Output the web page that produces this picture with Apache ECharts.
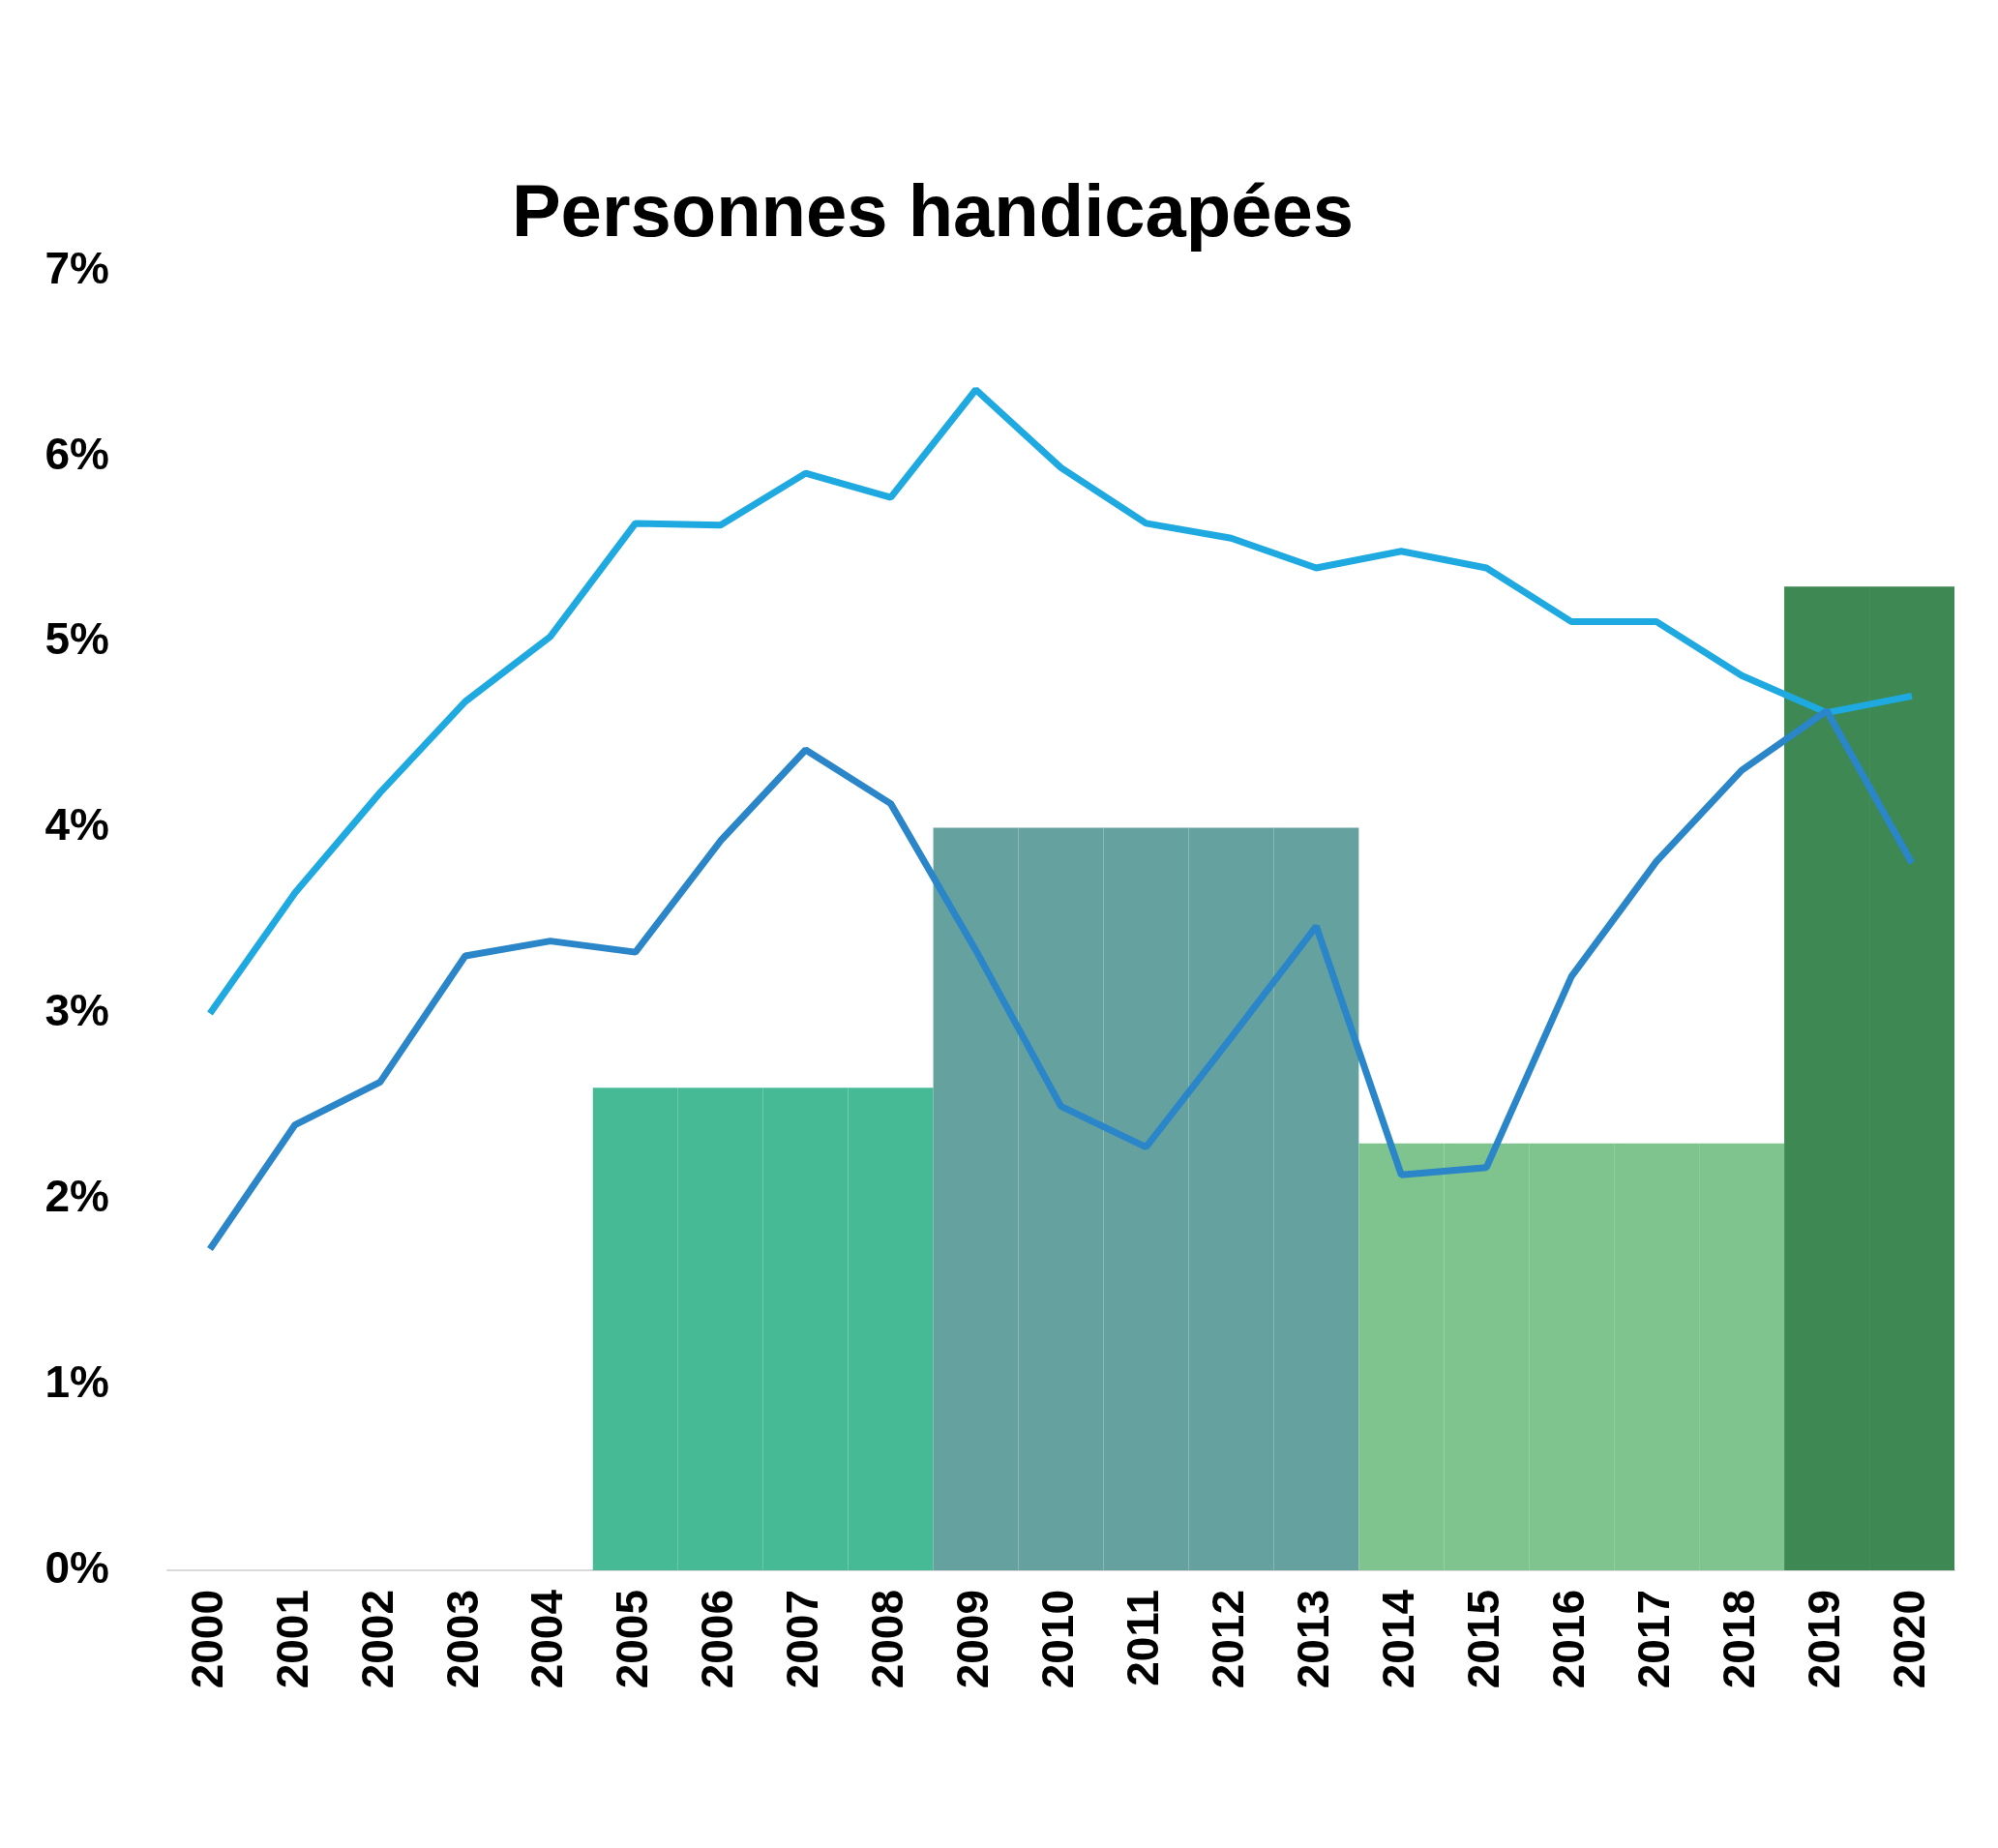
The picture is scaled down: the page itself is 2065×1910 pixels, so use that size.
<!DOCTYPE html>
<html>
<head>
<meta charset="utf-8">
<script src="https://cdn.jsdelivr.net/npm/echarts@6/dist/echarts.min.js"></script>
<style>
  html, body { margin: 0; padding: 0; background: #fff; }
  #chart { width: 2065px; height: 1910px; }
</style>
</head>
<body>
<div id="chart"></div>
<script>
// years on the x axis
const years = ['2000', '2001', '2002', '2003', '2004', '2005', '2006', '2007', '2008', '2009', '2010',
  '2011', '2012', '2013', '2014', '2015', '2016', '2017', '2018', '2019', '2020'];

// stepped bars (one value per year, '-' = empty)
const barValues = ['-', '-', '-', '-', '-', 2.6, 2.6, 2.6, 2.6, 4.0, 4.0, 4.0, 4.0, 4.0,
  2.3, 2.3, 2.3, 2.3, 2.3, 5.3, 5.3];
const barColors = ['#46b995', '#46b995', '#46b995', '#46b995', '#46b995', '#46b995', '#46b995', '#46b995', '#46b995',
  '#65a29f', '#65a29f', '#65a29f', '#65a29f', '#65a29f',
  '#7fc48f', '#7fc48f', '#7fc48f', '#7fc48f', '#7fc48f', '#3d8853', '#3d8853'];

// lines
const lightLine = [3.0, 3.65, 4.19, 4.68, 5.03, 5.64, 5.63, 5.91, 5.78, 6.36, 5.94,
  5.64, 5.56, 5.40, 5.49, 5.40, 5.11, 5.11, 4.82, 4.62, 4.71];
const darkLine = [1.73, 2.40, 2.63, 3.31, 3.39, 3.33, 3.93, 4.42, 4.13, 3.34, 2.50,
  2.28, 2.87, 3.47, 2.13, 2.17, 3.20, 3.82, 4.31, 4.63, 3.81];

const chart = echarts.init(document.getElementById('chart'));
const font = '"Liberation Sans", "Open Sans", sans-serif';

chart.setOption({
  animation: false,
  title: {
    text: 'Personnes handicapées',
    left: 959, top: 180, textAlign: 'center',
    textStyle: { fontFamily: font, fontWeight: 'bold', fontSize: 76, color: '#000' }
  },
  grid: { left: 173, right: 45, top: 280, bottom: 287 },
  xAxis: {
    type: 'category',
    data: years,
    axisLine: { lineStyle: { color: '#d9d9d9', width: 2 } },
    axisTick: { show: false },
    axisLabel: {
      rotate: 90, margin: 20, color: '#000',
      fontFamily: font, fontWeight: 'bold', fontSize: 46
    }
  },
  yAxis: {
    type: 'value', min: 0, max: 7, interval: 1,
    splitLine: { show: false },
    axisLine: { show: false },
    axisLabel: {
      formatter: '{value}%', margin: 60, color: '#000',
      fontFamily: font, fontWeight: 'bold', fontSize: 46
    }
  },
  series: [
    {
      type: 'bar',
      data: barValues.map((v, i) => ({ value: v, itemStyle: { color: barColors[i] } })),
      barWidth: '100%',
      barCategoryGap: '0%'
    },
    {
      type: 'line', data: lightLine, symbol: 'none',
      lineStyle: { color: '#1fa9e1', width: 7 }
    },
    {
      type: 'line', data: darkLine, symbol: 'none',
      lineStyle: { color: '#2a86c8', width: 7 }
    }
  ]
});
</script>
</body>
</html>
